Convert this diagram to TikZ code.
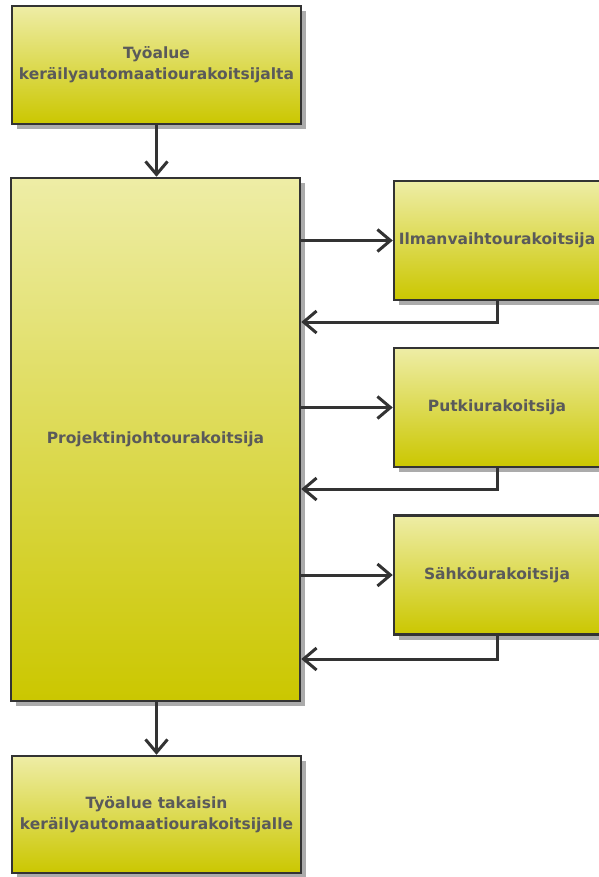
\documentclass[tikz,border=0pt]{standalone}
\usepackage{fontspec}
\setmainfont{DejaVu Sans}
\usetikzlibrary{arrows.meta,shadows}
\definecolor{boxtop}{HTML}{EEEDA6}
\definecolor{boxbottom}{HTML}{CBC700}
\definecolor{boxline}{HTML}{333333}
\definecolor{boxtext}{HTML}{5A5A5A}
\definecolor{boxshadow}{HTML}{ABABAB}

\begin{document}
\begin{tikzpicture}
[x=1bp,y=-1bp,
box/.style={draw=boxline,line width=2.5bp,top color=boxtop,bottom color=boxbottom,
  text=boxtext,font=\fontsize{15.5bp}{21bp}\selectfont\bfseries,align=center,inner sep=0pt,
  drop shadow={shadow xshift=5bp,shadow yshift=-5bp,fill=boxshadow,opacity=1}},
wide/.style={minimum width=289bp},
side/.style={minimum width=206bp,minimum height=119bp},
link/.style={draw=boxline,line width=3bp,-{Straight Barb[length=13bp,width=22bp]}}]

\useasboundingbox (0,0) rectangle (599,877);

%draw the main column
\node[box,wide,minimum height=118bp] (src) at (156.5,65) {Työalue\\keräilyautomaatiourakoitsijalta};
\node[box,wide,minimum height=523bp] (pm) at (155.5,439.5) {Projektinjohtourakoitsija};
\node[box,wide,minimum height=117bp] (dst) at (156.5,814.5) {Työalue takaisin\\keräilyautomaatiourakoitsijalle};

%draw the contractors on the right
\node[box,side] (ilma) at (497,240.5) {Ilmanvaihtourakoitsija};
\node[box,side] (putki) at (497,407.5) {Putkiurakoitsija};
\node[box,side] (sahko) at (497,575) {Sähköurakoitsija};

%levels of the return lines
\coordinate (ret1) at (300,322);
\coordinate (ret2) at (300,489);
\coordinate (ret3) at (300,659);

%draw the flow down
\draw[link] (src.south) -- (src.south |- pm.north);
\draw[link] (pm.south -| dst.north) -- (dst.north);

%draw the flow out and back
\draw[link] (pm.east |- ilma.west) -- (ilma.west);
\draw[link] (ilma.south) |- (pm.east |- ret1);
\draw[link] (pm.east |- putki.west) -- (putki.west);
\draw[link] (putki.south) |- (pm.east |- ret2);
\draw[link] (pm.east |- sahko.west) -- (sahko.west);
\draw[link] (sahko.south) |- (pm.east |- ret3);

\end{tikzpicture}
\end{document}
